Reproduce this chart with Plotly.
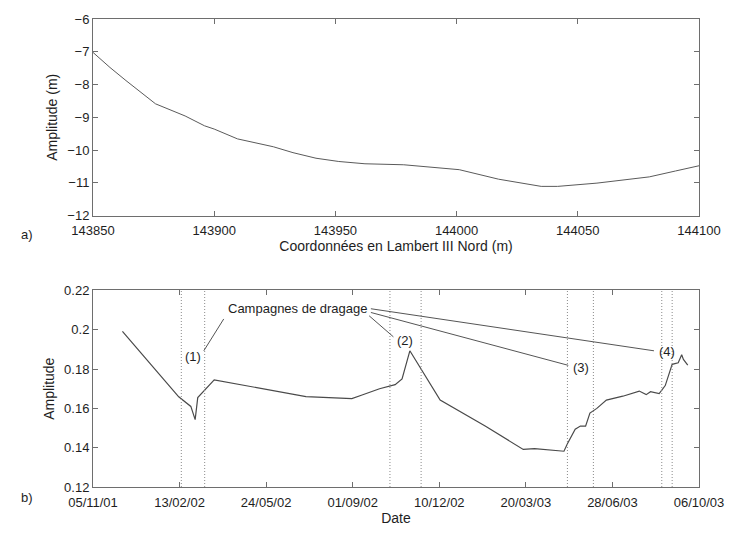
import plotly.graph_objects as go

# ---- Panel a) data ----
coord_x = [143850, 143857, 143863.6, 143875.8, 143888, 143896, 143900, 143909.6, 143924.4,
           143932.5, 143942, 143951.4, 143962.2, 143978.2, 144001.1, 144017.3, 144034.9,
           144041.7, 144057.9, 144079.5, 144090.3, 144100]
amp_m = [-7.02, -7.48, -7.88, -8.59, -8.96, -9.26, -9.36, -9.66, -9.9,
         -10.08, -10.25, -10.35, -10.42, -10.45, -10.6, -10.89, -11.11,
         -11.11, -11.01, -10.82, -10.64, -10.48]
a_xticks = [143850, 143900, 143950, 144000, 144050, 144100]
a_xticktext = ["143850", "143900", "143950", "144000", "144050", "144100"]
a_yticks = [-12, -11, -10, -9, -8, -7, -6]

# ---- Panel b) data ----
dates = ["2001-12-09", "2002-02-12", "2002-02-26", "2002-03-03", "2002-03-06", "2002-03-15",
         "2002-03-25", "2002-07-09", "2002-08-31", "2002-09-11", "2002-10-02", "2002-10-20",
         "2002-10-28", "2002-11-06", "2002-12-11", "2003-02-01", "2003-03-17", "2003-03-30",
         "2003-05-03", "2003-05-07", "2003-05-16", "2003-05-22", "2003-05-28", "2003-06-02",
         "2003-06-10", "2003-06-21", "2003-07-10", "2003-07-29", "2003-08-06", "2003-08-11",
         "2003-08-21", "2003-08-28", "2003-09-05", "2003-09-12", "2003-09-16", "2003-09-18",
         "2003-09-23"]
amplitude = [0.1992, 0.1659, 0.161, 0.1543, 0.1655, 0.1700,
             0.1745, 0.166, 0.165, 0.1667, 0.170, 0.1721,
             0.175, 0.1893, 0.1642, 0.151, 0.1391, 0.1395,
             0.1382, 0.142, 0.1494, 0.151, 0.151, 0.1576,
             0.160, 0.1642, 0.1662, 0.1688, 0.167, 0.1685,
             0.1675, 0.1716, 0.1824, 0.1832, 0.1873, 0.1849,
             0.182]
dredging_dates = ["2002-02-15", "2002-03-14", "2002-10-14", "2002-11-19",
                  "2003-05-07", "2003-06-06", "2003-08-24", "2003-09-05"]
b_tickvals = ["2001-11-05", "2002-02-13", "2002-05-24", "2002-09-01",
              "2002-12-10", "2003-03-20", "2003-06-28", "2003-10-06"]
b_ticktext = ["05/11/01", "13/02/02", "24/05/02", "01/09/02",
              "10/12/02", "20/03/03", "28/06/03", "06/10/03"]
b_yticks = [0.12, 0.14, 0.16, 0.18, 0.2, 0.22]
b_yticktext = ["0.12", "0.14", "0.16", "0.18", "0.2", "0.22"]

# annotation labels (campaign numbers) and leader lines
label_text = ["(1)", "(2)", "(3)", "(4)"]
label_x = ["2002-03-01", "2002-10-31", "2003-05-23", "2003-08-30"]
label_y = [0.1865, 0.1943, 0.1807, 0.189]
leader_start_x = ["2002-04-05", "2002-09-20", "2002-09-22", "2002-09-22"]
leader_start_y = [0.2055, 0.2071, 0.2088, 0.2107]
leader_end_x = ["2002-03-13", "2002-10-18", "2003-05-08", "2003-08-15"]
leader_end_y = [0.1893, 0.1964, 0.1819, 0.1893]

FONT = "Liberation Sans, Arial, sans-serif"
TXT = "#1e1e1e"
FRAME = "#6e6e6e"
FS = 13

fig = go.Figure()
fig.add_trace(go.Scatter(x=coord_x, y=amp_m, mode="lines", line=dict(color="#5a5a5a", width=1),
                         xaxis="x", yaxis="y", showlegend=False))
fig.add_trace(go.Scatter(x=dates, y=amplitude, mode="lines", line=dict(color="#4a4a4a", width=1.2),
                         xaxis="x2", yaxis="y2", showlegend=False))

shapes = []
for d in dredging_dates:
    shapes.append(dict(type="line", xref="x2", yref="y2 domain", x0=d, x1=d, y0=0, y1=1,
                       line=dict(color="#8a8a8a", width=1, dash="1px,2px")))
for sx, sy, ex, ey in zip(leader_start_x, leader_start_y, leader_end_x, leader_end_y):
    shapes.append(dict(type="line", xref="x2", yref="y2", x0=sx, y0=sy, x1=ex, y1=ey,
                       line=dict(color="#555555", width=1)))

H_PLOT = 481.0
def py(px):
    return (496 - px) / H_PLOT

annotations = [
    dict(text="Campagnes de dragage", x="2002-06-30", y=0.2109, xref="x2", yref="y2",
         showarrow=False, font=dict(size=FS, color=TXT)),
    dict(text="a)", x=-0.122, y=py(236), xref="paper", yref="paper",
         showarrow=False, font=dict(size=FS, color=TXT)),
    dict(text="b)", x=-0.122, y=py(517), xref="paper", yref="paper",
         showarrow=False, font=dict(size=FS, color=TXT)),
]
for t, lx, ly in zip(label_text, label_x, label_y):
    annotations.append(dict(text=t, x=lx, y=ly, xref="x2", yref="y2", showarrow=False,
                            font=dict(size=FS, color=TXT)))

axis_common = dict(showgrid=False, zeroline=False, showline=True, linecolor=FRAME, linewidth=1,
                   mirror="allticks", ticks="inside", ticklen=5, tickcolor=FRAME,
                   tickfont=dict(size=FS, color=TXT))
title_font = dict(size=14, color=TXT, family=FONT)

fig.update_layout(
    width=736, height=535,
    margin=dict(l=93, r=26, t=15, b=39),
    paper_bgcolor="white", plot_bgcolor="white",
    font=dict(family=FONT, size=FS, color=TXT),
    xaxis=dict(domain=[0, 1], anchor="y", range=[143850, 144100], tickvals=a_xticks,
               ticktext=a_xticktext, ticklabelstandoff=3,
               title=dict(text="Coordonnées en Lambert III Nord (m)", standoff=4, font=title_font),
               **axis_common),
    yaxis=dict(domain=[py(217), 1], anchor="x", range=[-12, -6], tickvals=a_yticks,
               title=dict(text="Amplitude (m)", standoff=6, font=title_font), **axis_common),
    xaxis2=dict(domain=[0, 1], anchor="y2", type="date", range=["2001-11-05", "2003-10-06"],
                tickvals=b_tickvals, ticktext=b_ticktext, ticklabelstandoff=3,
                title=dict(text="Date", standoff=4, font=title_font), **axis_common),
    yaxis2=dict(domain=[0, py(294)], anchor="x2", range=[0.12, 0.22], tickvals=b_yticks,
                ticktext=b_yticktext,
                title=dict(text="Amplitude", standoff=6, font=title_font), **axis_common),
    shapes=shapes,
    annotations=annotations,
)

fig.write_html("out.html")
